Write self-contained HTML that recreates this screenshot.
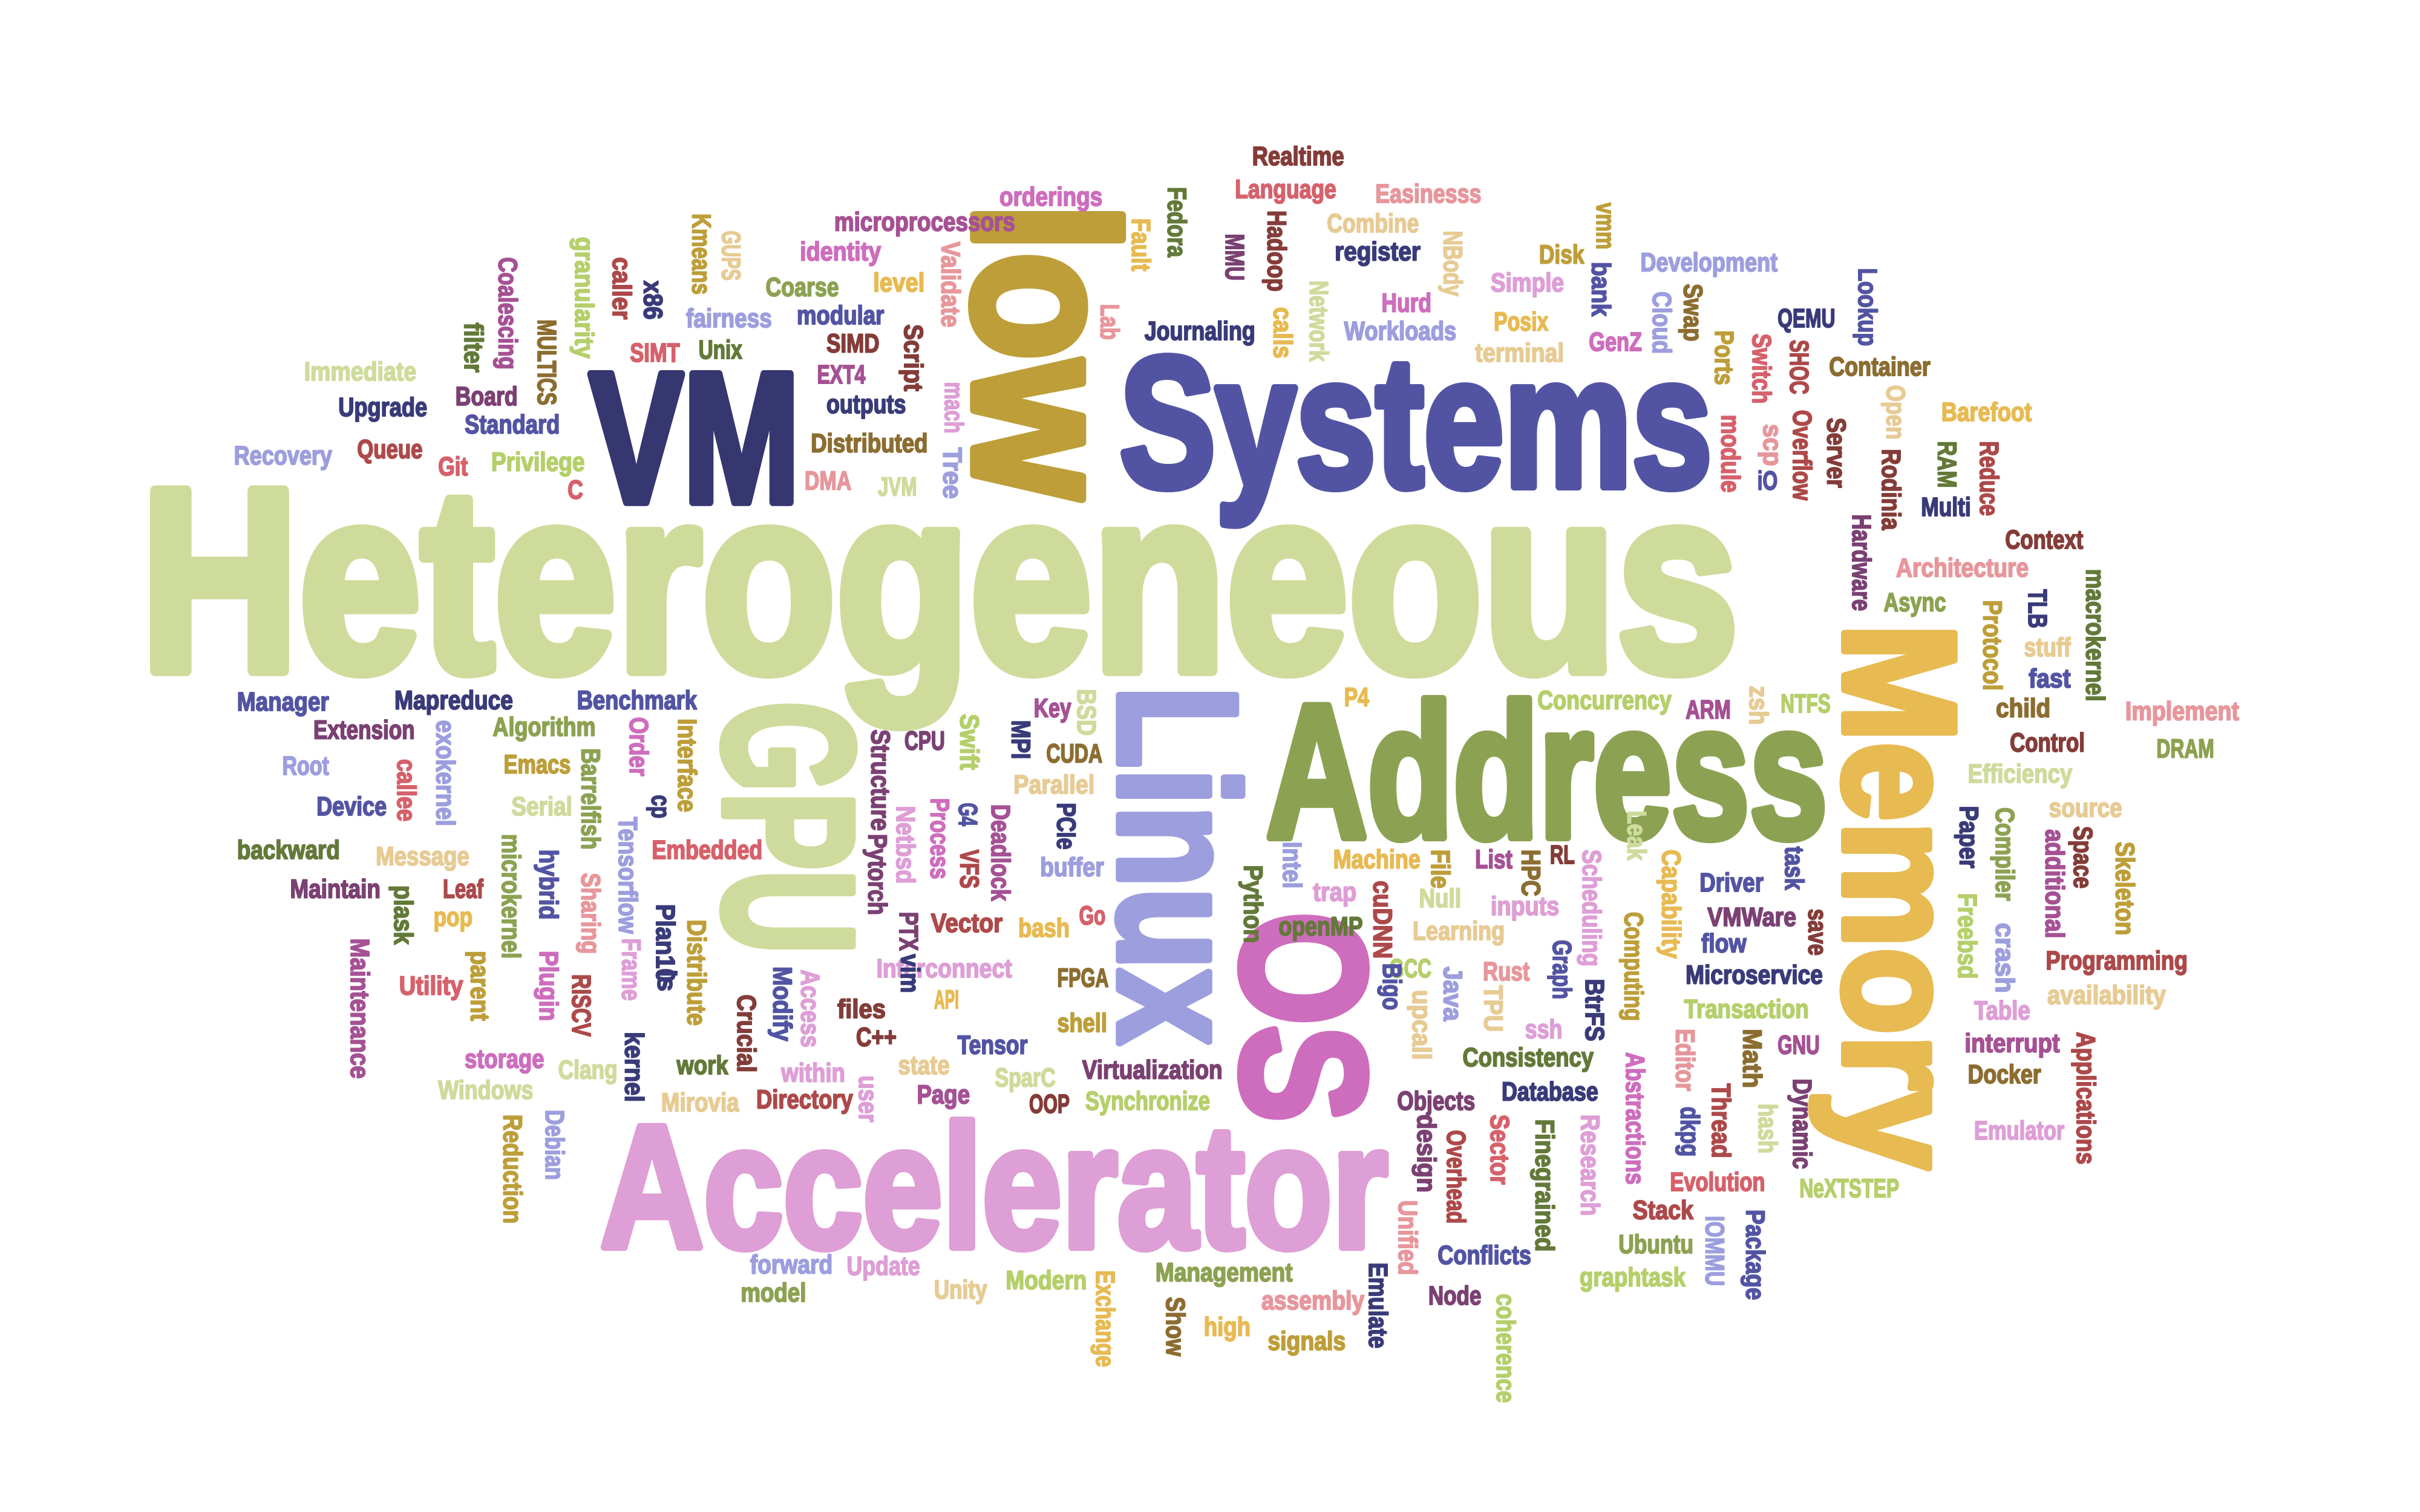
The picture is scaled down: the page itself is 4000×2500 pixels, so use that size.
<!DOCTYPE html>
<html><head><meta charset="utf-8"><style>
html,body{margin:0;padding:0;background:#fff;}
svg{display:block;}
text{font-family:"Liberation Sans Narrow","Liberation Sans",sans-serif;font-weight:bold;stroke-linejoin:round;}
</style></head><body>
<svg id="cloud" width="4000" height="2500" viewBox="0 0 1552 970" xmlns="http://www.w3.org/2000/svg">
<rect width="1552" height="970" fill="#fff"/>
</svg>
<script>
// words: [text, x, y, length, fontSize, color, vertical]
const bigWords = [
 ["Heterogeneous",90,430,1025,167,"#cfdb9b",0],
 ["VM",378,322,135,119,"#363670",0],
 ["Systems",718,312,380,119,"#5254a3",0],
 ["Address",812,537,360,122,"#8ca252",0],
 ["Accelerator",385,800,505,112,"#de9ed6",0],
 ["low",625,130,190,130,"#bd9e39",1],
 ["Memory",1183,400,350,102,"#e7ba52",1],
 ["Linux",718,440,230,108,"#9c9ede",1],
 ["GPU",465,450,162,118,"#cedb9c",1],
 ["OS",797,585,135,113,"#ce6dbd",1]
];
const hWords = [
 ["Realtime",803,106,59,"#843c39"],["Language",792,127,65,"#d6616b"],["Easinesss",882,130,68,"#e7969c"],
 ["orderings",641,132,66,"#ce6dbd"],["microprocessors",535,148,116,"#a55194"],["Combine",851,149,59,"#e7cb94"],
 ["register",856,167,55,"#393b79"],["identity",513,167,52,"#ce6dbd"],["Development",1052,174,88,"#9c9ede"],
 ["Coarse",491,190,47,"#8ca252"],["level",560,187,33,"#e7ba52"],["Simple",956,187,47,"#de9ed6"],
 ["Disk",987,169,29,"#bd9e39"],["Hurd",886,200,32,"#ce6dbd"],["fairness",440,210,55,"#9c9ede"],
 ["modular",511,208,56,"#5254a3"],["Posix",958,212,35,"#e7ba52"],["Journaling",734,218,71,"#393b79"],
 ["Workloads",862,218,72,"#9c9ede"],["terminal",946,232,57,"#e7cb94"],["GenZ",1019,225,34,"#ce6dbd"],
 ["SIMT",404,232,32,"#d6616b"],["Unix",448,230,28,"#637939"],["SIMD",530,226,34,"#843c39"],
 ["EXT4",524,246,31,"#a55194"],["Immediate",195,244,72,"#cedb9c"],["Upgrade",217,267,57,"#393b79"],
 ["Board",292,260,40,"#7b4173"],["Standard",298,278,61,"#5254a3"],["outputs",530,265,51,"#393b79"],
 ["QEMU",1140,210,37,"#393b79"],["Container",1173,241,65,"#8c6d31"],["Barefoot",1245,270,58,"#e7ba52"],
 ["Recovery",150,298,63,"#9c9ede"],["Queue",229,294,42,"#ad494a"],["Git",281,305,19,"#d6616b"],
 ["Privilege",315,302,60,"#b5cf6b"],["Distributed",520,290,75,"#8c6d31"],["DMA",516,314,30,"#e7969c"],
 ["JVM",563,318,25,"#cedb9c"],["C",364,320,10,"#d6616b"],["iO",1127,314,13,"#5254a3"],
 ["Multi",1232,331,32,"#393b79"],["Context",1286,352,50,"#843c39"],["Architecture",1216,370,85,"#e7969c"],
 ["Async",1208,392,40,"#8ca252"],["stuff",1298,421,30,"#e7cb94"],["fast",1301,441,27,"#5254a3"],
 ["Implement",1363,462,73,"#e7969c"],["child",1280,460,35,"#8c6d31"],["Control",1289,482,48,"#843c39"],
 ["DRAM",1383,486,37,"#8ca252"],["Efficiency",1262,502,67,"#cedb9c"],["source",1314,524,47,"#e7cb94"],
 ["Programming",1312,622,91,"#ad494a"],["availability",1313,644,76,"#e7cb94"],["Table",1266,654,36,"#de9ed6"],
 ["interrupt",1260,675,61,"#a55194"],["Docker",1262,695,47,"#8c6d31"],["Emulator",1266,731,58,"#de9ed6"],
 ["ARM",1081,461,29,"#a55194"],["NTFS",1142,457,32,"#b5cf6b"],["Concurrency",986,455,86,"#b5cf6b"],
 ["P4",862,453,16,"#e7ba52"],["Benchmark",370,455,77,"#5254a3"],["Manager",152,456,59,"#5254a3"],
 ["Mapreduce",253,455,76,"#393b79"],["Extension",201,474,65,"#7b4173"],["Algorithm",316,472,66,"#8ca252"],
 ["Key",663,460,24,"#a55194"],["CPU",580,481,26,"#7b4173"],["CUDA",671,489,36,"#8c6d31"],
 ["Root",181,497,30,"#9c9ede"],["Emacs",323,496,43,"#bd9e39"],["Parallel",650,509,52,"#e7cb94"],
 ["Device",203,523,45,"#5254a3"],["Serial",328,523,39,"#cedb9c"],["backward",152,551,66,"#637939"],
 ["Message",241,555,60,"#e7cb94"],["Embedded",418,551,71,"#d6616b"],["buffer",667,562,41,"#9c9ede"],
 ["Machine",855,557,56,"#e7ba52"],["List",946,557,24,"#a55194"],["RL",994,554,16,"#843c39"],
 ["Maintain",186,576,58,"#7b4173"],["Leaf",284,576,26,"#ad494a"],["pop",278,594,25,"#e7ba52"],
 ["Driver",1090,572,41,"#5254a3"],["inputs",956,587,44,"#de9ed6"],["trap",842,578,28,"#de9ed6"],
 ["Null",910,582,27,"#cedb9c"],["VMWare",1095,594,57,"#7b4173"],["Vector",597,598,46,"#ad494a"],
 ["bash",653,601,33,"#e7ba52"],["Go",692,593,17,"#d6616b"],["openMP",820,600,54,"#637939"],
 ["Learning",906,603,59,"#e7cb94"],["flow",1091,611,29,"#5254a3"],["Rust",951,629,30,"#e7969c"],
 ["GCC",891,627,27,"#b5cf6b"],["Utility",256,638,41,"#d6616b"],["Interconnect",562,627,87,"#de9ed6"],
 ["FPGA",678,633,33,"#8c6d31"],["Microservice",1081,631,88,"#393b79"],["Transaction",1080,653,80,"#b5cf6b"],
 ["files",537,653,31,"#843c39"],["API",599,647,16,"#e7ba52"],["shell",678,662,32,"#bd9e39"],
 ["GNU",1140,676,27,"#a55194"],["ssh",978,666,24,"#de9ed6"],["C++",549,671,26,"#843c39"],
 ["Tensor",614,676,45,"#5254a3"],["Consistency",938,684,84,"#637939"],["storage",298,685,51,"#ce6dbd"],
 ["Clang",358,692,38,"#cedb9c"],["work",434,689,33,"#637939"],["state",576,689,33,"#e7cb94"],
 ["Virtualization",694,692,90,"#7b4173"],["Windows",281,705,61,"#cedb9c"],["within",501,694,41,"#de9ed6"],
 ["SparC",638,697,39,"#cedb9c"],["Page",588,708,34,"#a55194"],["Database",963,706,62,"#393b79"],
 ["Objects",896,712,50,"#7b4173"],["Mirovia",424,713,50,"#e7cb94"],["Directory",485,711,62,"#ad494a"],
 ["OOP",660,714,26,"#843c39"],["Synchronize",696,712,80,"#b5cf6b"],["Evolution",1071,764,61,"#d6616b"],
 ["NeXTSTEP",1154,768,64,"#b5cf6b"],["Stack",1047,782,39,"#ad494a"],["Ubuntu",1038,804,48,"#8ca252"],
 ["Conflicts",922,811,60,"#5254a3"],["forward",481,817,53,"#9c9ede"],["Update",543,818,47,"#de9ed6"],
 ["Management",741,822,88,"#8ca252"],["graphtask",1013,825,68,"#b5cf6b"],["model",475,835,42,"#8ca252"],
 ["Unity",599,833,34,"#e7cb94"],["Modern",645,827,52,"#b5cf6b"],["assembly",809,840,66,"#e7969c"],
 ["Node",916,837,34,"#7b4173"],["high",772,857,30,"#e7ba52"],["signals",813,866,50,"#bd9e39"]
];
const vWords = [
 ["Coalescing",320,165,72,"#a55194"],["granularity",369,152,78,"#b5cf6b"],["filter",298,207,32,"#637939"],
 ["MULTICS",345,205,55,"#8c6d31"],["caller",393,165,40,"#ad494a"],["x86",413,180,25,"#393b79"],
 ["Kmeans",444,137,52,"#bd9e39"],["GUPS",463,148,32,"#e7cb94"],["Validate",604,155,55,"#e7969c"],
 ["Script",580,208,43,"#843c39"],["mach",606,245,33,"#de9ed6"],["Tree",605,287,33,"#9c9ede"],
 ["Fault",726,140,34,"#e7ba52"],["Fedora",749,120,45,"#637939"],["Lab",706,195,23,"#e7969c"],
 ["MMU",786,150,30,"#7b4173"],["Hadoop",813,135,52,"#843c39"],["calls",817,197,33,"#e7ba52"],
 ["Network",840,180,52,"#cedb9c"],["NBody",926,148,42,"#e7cb94"],["vmm",1024,130,30,"#bd9e39"],
 ["bank",1021,168,35,"#5254a3"],["Cloud",1060,187,40,"#9c9ede"],["Swap",1080,182,37,"#8c6d31"],
 ["Ports",1100,212,35,"#bd9e39"],["Switch",1124,214,45,"#d6616b"],["SHOC",1148,218,35,"#ad494a"],
 ["Lookup",1192,172,50,"#5254a3"],["module",1104,266,50,"#d6616b"],["scp",1131,272,27,"#e7969c"],
 ["Overflow",1150,263,58,"#ad494a"],["Server",1172,268,45,"#843c39"],["Open",1210,247,35,"#e7cb94"],
 ["Rodinia",1207,288,52,"#843c39"],["RAM",1243,283,30,"#637939"],["Reduce",1270,283,48,"#ad494a"],
 ["Hardware",1188,330,62,"#7b4173"],["TLB",1301,378,25,"#393b79"],["Protocol",1272,385,58,"#bd9e39"],
 ["macrokernel",1338,365,85,"#637939"],["zsh",1122,440,25,"#e7cb94"],["BSD",691,442,30,"#cedb9c"],
 ["MPI",649,462,25,"#393b79"],["Swift",616,458,36,"#b5cf6b"],["Structure",559,468,65,"#7b4173"],
 ["Interface",435,461,60,"#bd9e39"],["Order",404,460,38,"#ce6dbd"],["exokernel",280,462,68,"#9c9ede"],
 ["callee",255,487,40,"#d6616b"],["Barrelfish",373,480,65,"#8ca252"],["cp",418,510,15,"#393b79"],
 ["Tensorflow",397,524,75,"#9c9ede"],["Pytorch",557,535,52,"#7b4173"],["Netbsd",575,517,50,"#de9ed6"],
 ["Process",597,512,52,"#ce6dbd"],["G4",615,515,15,"#5254a3"],["VFS",616,545,25,"#ad494a"],
 ["Deadlock",636,516,62,"#a55194"],["PCIe",678,515,30,"#393b79"],["hybrid",346,545,45,"#5254a3"],
 ["microkernel",322,535,80,"#8ca252"],["plask",253,568,38,"#637939"],["Sharing",373,560,52,"#e7969c"],
 ["Frame",399,602,40,"#de9ed6"],["Plan10",421,580,50,"#393b79"],["Distribute",441,590,68,"#bd9e39"],
 ["ls",422,622,14,"#393b79"],["Crucial",473,638,50,"#843c39"],["Modify",496,620,48,"#5254a3"],
 ["Access",514,622,50,"#de9ed6"],["PTX",577,585,25,"#7b4173"],["vim",578,612,25,"#393b79"],
 ["Maintenance",225,602,90,"#a55194"],["parent",302,610,45,"#bd9e39"],["Plugin",346,610,45,"#ce6dbd"],
 ["RISCV",367,625,40,"#ad494a"],["kernel",401,662,45,"#393b79"],["Debian",350,712,45,"#9c9ede"],
 ["Reduction",323,715,70,"#bd9e39"],["user",551,690,30,"#de9ed6"],["Python",798,555,50,"#637939"],
 ["Intel",823,540,30,"#9c9ede"],["cuDNN",881,565,50,"#ad494a"],["File",918,545,25,"#bd9e39"],
 ["HPC",976,545,30,"#8c6d31"],["Leak",1044,520,32,"#cedb9c"],["Scheduling",1015,545,75,"#de9ed6"],
 ["Capability",1066,545,70,"#e7ba52"],["Computing",1042,585,70,"#bd9e39"],["Graph",996,603,38,"#5254a3"],
 ["BtrFS",1017,628,40,"#393b79"],["task",1145,543,28,"#5254a3"],["save",1160,583,30,"#843c39"],
 ["Paper",1257,517,40,"#393b79"],["Freebsd",1256,573,55,"#b5cf6b"],["Compiler",1280,518,60,"#8ca252"],
 ["additional",1312,532,70,"#a55194"],["crash",1280,592,45,"#9c9ede"],["Space",1330,530,40,"#843c39"],
 ["Skeleton",1357,540,60,"#bd9e39"],["Applications",1332,662,85,"#ad494a"],["Java",926,620,35,"#9c9ede"],
 ["TPU",952,632,30,"#e7cb94"],["Bigo",887,618,30,"#5254a3"],["upcall",906,635,45,"#e7cb94"],
 ["Abstractions",1043,675,85,"#ce6dbd"],["Editor",1075,660,40,"#e7969c"],["Math",1118,660,38,"#8c6d31"],
 ["dkpg",1078,710,32,"#5254a3"],["Thread",1098,695,48,"#ad494a"],["hash",1128,708,32,"#cedb9c"],
 ["Dynamic",1150,692,58,"#7b4173"],["Research",1014,715,65,"#de9ed6"],["Finegrained",985,718,85,"#637939"],
 ["Sector",956,715,45,"#d6616b"],["Overhead",928,725,60,"#ad494a"],["design",909,715,50,"#7b4173"],
 ["Unified",897,770,48,"#e7969c"],["Emulate",878,810,55,"#393b79"],["Show",748,832,38,"#8c6d31"],
 ["Exchange",703,815,62,"#e7ba52"],["IOMMU",1094,780,45,"#9c9ede"],["Package",1120,776,58,"#5254a3"],
 ["coherence",960,830,70,"#b5cf6b"]
];
const svg = document.getElementById('cloud');
const NS = 'http://www.w3.org/2000/svg';
function addWord(w, x, y, len, fs, color, vert) {
  const t = document.createElementNS(NS, 'text');
  
  
  t.setAttribute('font-size', fs);
  t.setAttribute('fill', color);
  t.setAttribute('stroke', color);
  t.setAttribute('stroke-width', (fs * 0.045).toFixed(2));
  t.setAttribute('textLength', len);
  t.setAttribute('lengthAdjust', 'spacingAndGlyphs');
  if (vert) {
    t.setAttribute('transform', 'translate(' + x + ',' + y + ') rotate(90)');
    t.setAttribute('x', 0); t.setAttribute('y', 0);
  } else {
    t.setAttribute('x', x); t.setAttribute('y', y);
  }
  t.textContent = w;
  svg.appendChild(t);
}
bigWords.forEach(b => addWord(b[0], b[1], b[2], b[3], b[4], b[5], b[6]));
hWords.forEach(h => addWord(h[0], h[1], h[2], h[3], 17, h[4], 0));
vWords.forEach(v => addWord(v[0], v[1], v[2], v[3], 17, v[4], 1));
</script>
</body></html>
